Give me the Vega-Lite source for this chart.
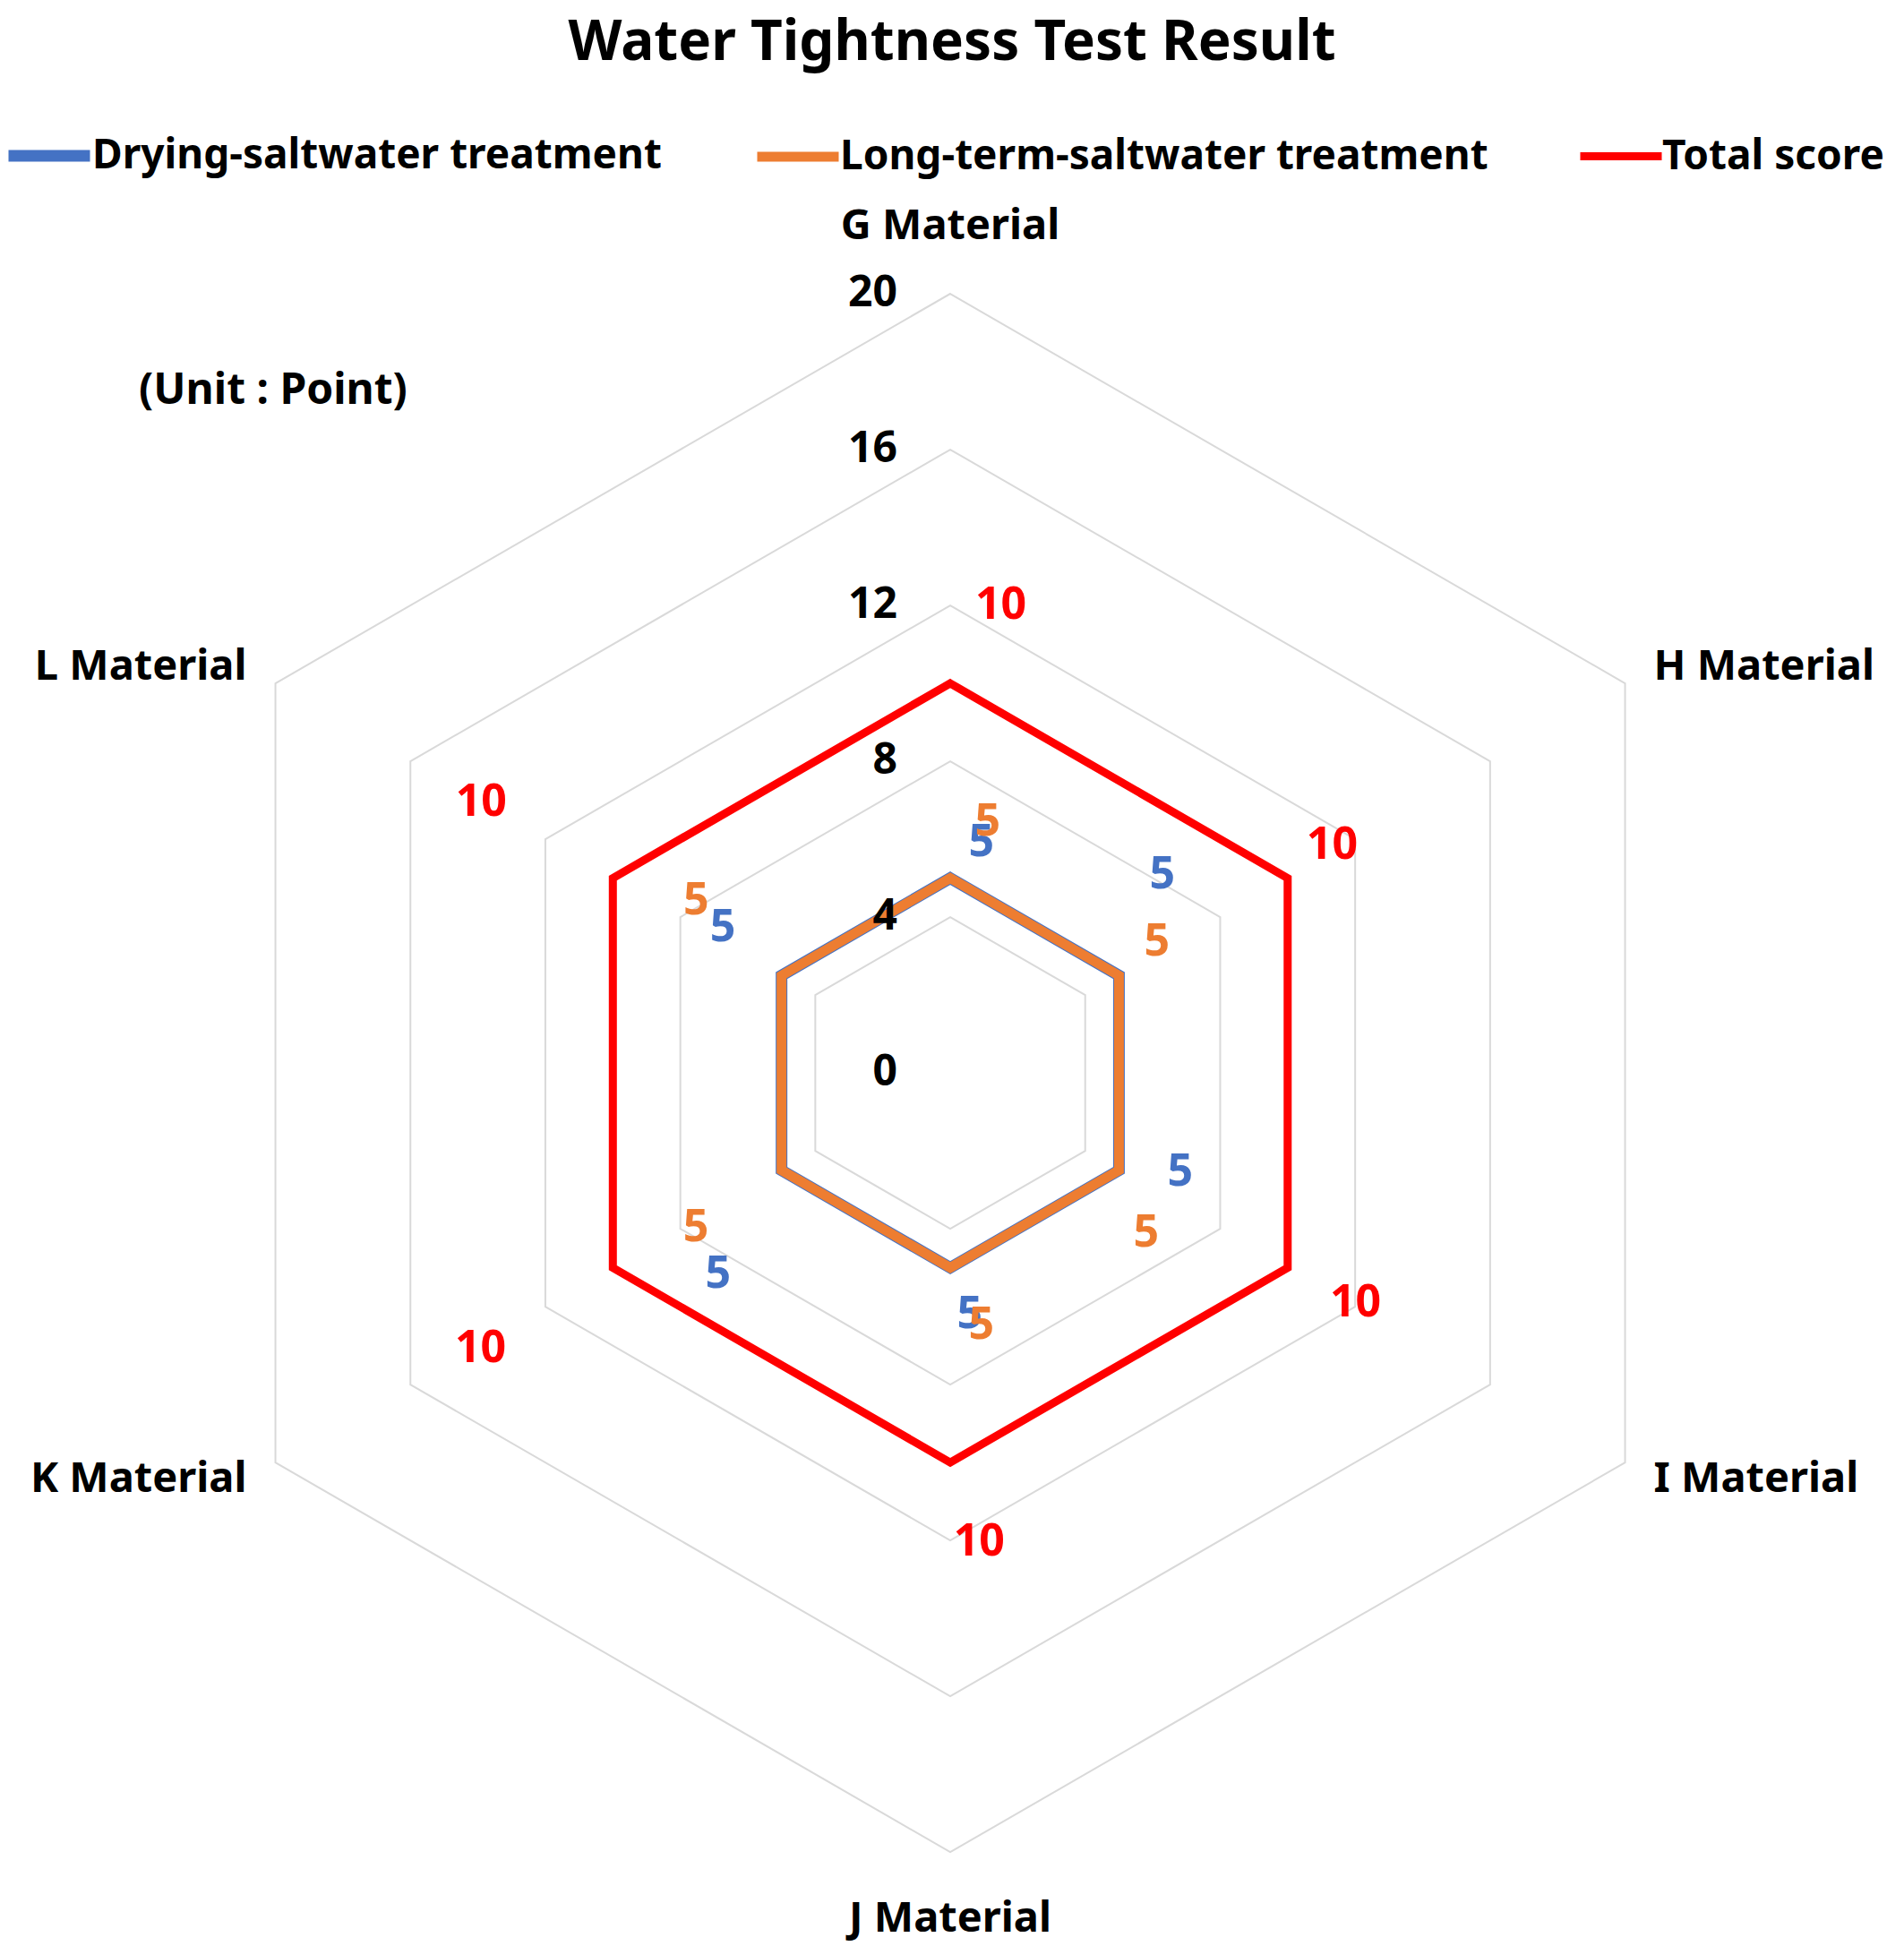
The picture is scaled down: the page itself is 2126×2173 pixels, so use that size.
{
  "$schema": "https://vega.github.io/schema/vega-lite/v6.json",
  "width": 2126,
  "height": 2173,
  "autosize": {"type": "none"},
  "padding": 0,
  "background": "white",
  "title": {
    "text": "Water Tightness Test Result",
    "anchor": "middle",
    "frame": "group",
    "orient": "top",
    "offset": -68,
    "dy": 61,
    "baseline": "alphabetic",
    "font": "Noto Sans",
    "fontSize": 62,
    "fontWeight": "bold",
    "color": "#000000"
  },
  "config": {
    "view": {"stroke": null}
  },
  "datasets": {
    "materials": [
      {"material": "G Material"},
      {"material": "H Material"},
      {"material": "I Material"},
      {"material": "J Material"},
      {"material": "K Material"},
      {"material": "L Material"}
    ],
    "scores": [
      {"material": "G Material", "series": "Drying-saltwater treatment", "value": 5},
      {"material": "H Material", "series": "Drying-saltwater treatment", "value": 5},
      {"material": "I Material", "series": "Drying-saltwater treatment", "value": 5},
      {"material": "J Material", "series": "Drying-saltwater treatment", "value": 5},
      {"material": "K Material", "series": "Drying-saltwater treatment", "value": 5},
      {"material": "L Material", "series": "Drying-saltwater treatment", "value": 5},
      {"material": "G Material", "series": "Long-term-saltwater treatment", "value": 5},
      {"material": "H Material", "series": "Long-term-saltwater treatment", "value": 5},
      {"material": "I Material", "series": "Long-term-saltwater treatment", "value": 5},
      {"material": "J Material", "series": "Long-term-saltwater treatment", "value": 5},
      {"material": "K Material", "series": "Long-term-saltwater treatment", "value": 5},
      {"material": "L Material", "series": "Long-term-saltwater treatment", "value": 5},
      {"material": "G Material", "series": "Total score", "value": 10},
      {"material": "H Material", "series": "Total score", "value": 10},
      {"material": "I Material", "series": "Total score", "value": 10},
      {"material": "J Material", "series": "Total score", "value": 10},
      {"material": "K Material", "series": "Total score", "value": 10},
      {"material": "L Material", "series": "Total score", "value": 10}
    ],
    "rings": [
      {"ring": 4, "material": "G Material"}, {"ring": 4, "material": "H Material"}, {"ring": 4, "material": "I Material"},
      {"ring": 4, "material": "J Material"}, {"ring": 4, "material": "K Material"}, {"ring": 4, "material": "L Material"},
      {"ring": 8, "material": "G Material"}, {"ring": 8, "material": "H Material"}, {"ring": 8, "material": "I Material"},
      {"ring": 8, "material": "J Material"}, {"ring": 8, "material": "K Material"}, {"ring": 8, "material": "L Material"},
      {"ring": 12, "material": "G Material"}, {"ring": 12, "material": "H Material"}, {"ring": 12, "material": "I Material"},
      {"ring": 12, "material": "J Material"}, {"ring": 12, "material": "K Material"}, {"ring": 12, "material": "L Material"},
      {"ring": 16, "material": "G Material"}, {"ring": 16, "material": "H Material"}, {"ring": 16, "material": "I Material"},
      {"ring": 16, "material": "J Material"}, {"ring": 16, "material": "K Material"}, {"ring": 16, "material": "L Material"},
      {"ring": 20, "material": "G Material"}, {"ring": 20, "material": "H Material"}, {"ring": 20, "material": "I Material"},
      {"ring": 20, "material": "J Material"}, {"ring": 20, "material": "K Material"}, {"ring": 20, "material": "L Material"}
    ],
    "ticks": [
      {"tick": 0}, {"tick": 4}, {"tick": 8}, {"tick": 12}, {"tick": 16}, {"tick": 20}
    ]
  },
  "resolve": {"scale": {"x": "shared", "y": "shared"}, "legend": {"color": "independent", "strokeWidth": "independent"}},
  "layer": [
    {
      "data": {"name": "rings"},
      "transform": [
        {"calculate": "indexof(['G Material','H Material','I Material','J Material','K Material','L Material'], datum.material)", "as": "idx"},
        {"calculate": "datum.idx * PI / 3", "as": "th"},
        {"calculate": "datum.ring * sin(datum.th)", "as": "px"},
        {"calculate": "datum.ring * cos(datum.th)", "as": "py"}
      ],
      "mark": {"type": "line", "interpolate": "linear-closed", "stroke": "#d9d9d9", "strokeWidth": 2},
      "encoding": {
        "x": {"field": "px", "type": "quantitative", "scale": {"domain": [-24.39, 24.48], "zero": false, "nice": false}, "axis": null},
        "y": {"field": "py", "type": "quantitative", "scale": {"domain": [-22.41, 27.54], "zero": false, "nice": false}, "axis": null},
        "detail": {"field": "ring", "type": "nominal"},
        "order": {"field": "idx", "type": "quantitative"}
      }
    },
    {
      "data": {"name": "scores"},
      "transform": [
        {"calculate": "indexof(['G Material','H Material','I Material','J Material','K Material','L Material'], datum.material)", "as": "idx"},
        {"calculate": "datum.idx * PI / 3", "as": "th"},
        {"calculate": "datum.value * sin(datum.th)", "as": "px"},
        {"calculate": "datum.value * cos(datum.th)", "as": "py"}
      ],
      "mark": {"type": "line", "interpolate": "linear-closed", "strokeJoin": "miter"},
      "encoding": {
        "x": {"field": "px", "type": "quantitative"},
        "y": {"field": "py", "type": "quantitative"},
        "color": {
          "field": "series", "type": "nominal",
          "scale": {"domain": ["Drying-saltwater treatment", "Long-term-saltwater treatment", "Total score"], "range": ["#4472C4", "#ED7D31", "#FF0000"]},
          "legend": {
            "orient": "none",
            "legendX": 3,
            "legendY": 122,
            "direction": "horizontal",
            "symbolType": "stroke",
            "symbolSize": 8281,
            "labelFont": "Noto Sans",
            "labelFontSize": 46,
            "labelFontWeight": "bold",
            "labelColor": "#000000",
            "labelOffset": -4,
            "columnPadding": 84,
            "labelLimit": 1000,
            "title": null
          }
        },
        "strokeWidth": {
          "field": "series", "type": "nominal",
          "scale": {"domain": ["Drying-saltwater treatment", "Long-term-saltwater treatment", "Total score"], "range": [13, 9, 8]},
          "legend": {
            "orient": "none",
            "legendX": 3,
            "legendY": 122,
            "direction": "horizontal",
            "symbolType": "stroke",
            "symbolSize": 8281,
            "labelFont": "Noto Sans",
            "labelFontSize": 46,
            "labelFontWeight": "bold",
            "labelColor": "#000000",
            "labelOffset": -4,
            "columnPadding": 84,
            "labelLimit": 1000,
            "title": null
          }
        },
        "order": {"field": "idx", "type": "quantitative"}
      }
    },
    {
      "data": {"name": "ticks"},
      "mark": {"type": "text", "align": "right", "baseline": "middle", "dx": -59, "font": "Noto Sans", "fontSize": 48, "fontWeight": "bold", "color": "#000000"},
      "encoding": {
        "x": {"datum": 0, "type": "quantitative"},
        "y": {"field": "tick", "type": "quantitative"},
        "text": {"field": "tick", "type": "quantitative"}
      }
    },
    {
      "data": {"name": "materials"},
      "transform": [
        {"calculate": "indexof(['G Material','H Material','I Material','J Material','K Material','L Material'], datum.material)", "as": "idx"},
        {"calculate": "datum.idx * PI / 3", "as": "th"},
        {"calculate": "(datum.idx == 0 || datum.idx == 3) ? 21.72 : 20.85", "as": "lr"},
        {"calculate": "datum.lr * sin(datum.th)", "as": "px"},
        {"calculate": "datum.lr * cos(datum.th)", "as": "py"}
      ],
      "layer": [
        {
          "transform": [{"filter": "datum.idx == 0 || datum.idx == 3"}],
          "mark": {"type": "text", "align": "center", "baseline": "middle", "font": "Noto Sans", "fontSize": 47, "fontWeight": "bold", "color": "#000000"},
          "encoding": {
            "x": {"field": "px", "type": "quantitative"},
            "y": {"field": "py", "type": "quantitative"},
            "text": {"field": "material", "type": "nominal"}
          }
        },
        {
          "transform": [{"filter": "datum.idx == 1 || datum.idx == 2"}],
          "mark": {"type": "text", "align": "left", "baseline": "middle", "font": "Noto Sans", "fontSize": 47, "fontWeight": "bold", "color": "#000000"},
          "encoding": {
            "x": {"field": "px", "type": "quantitative"},
            "y": {"field": "py", "type": "quantitative"},
            "text": {"field": "material", "type": "nominal"}
          }
        },
        {
          "transform": [{"filter": "datum.idx == 4 || datum.idx == 5"}],
          "mark": {"type": "text", "align": "right", "baseline": "middle", "font": "Noto Sans", "fontSize": 47, "fontWeight": "bold", "color": "#000000"},
          "encoding": {
            "x": {"field": "px", "type": "quantitative"},
            "y": {"field": "py", "type": "quantitative"},
            "text": {"field": "material", "type": "nominal"}
          }
        }
      ]
    },
    {
      "data": {"name": "scores"},
      "transform": [
        {"calculate": "indexof(['G Material','H Material','I Material','J Material','K Material','L Material'], datum.material)", "as": "idx"},
        {"calculate": "datum.idx * PI / 3", "as": "th"},
        {"calculate": "datum.series == 'Total score' ? [12, 11.41, 11.96, 12.05, 13.98, 13.9][datum.idx] : (datum.series == 'Drying-saltwater treatment' ? [5.9, 7.25, 6.39, 6.2, 7.74, 6.92][datum.idx] : [6.43, 6.27, 6.41, 6.47, 7.64, 7.86][datum.idx])", "as": "lr"},
        {"calculate": "datum.series == 'Total score' ? [1.3, -0.16, -0.09, -0.74, -0.1, 0][datum.idx] : (datum.series == 'Drying-saltwater treatment' ? [0.8, -1.67, -0.74, -0.5, -1.49, 0.31][datum.idx] : [0.96, -0.25, 1.04, -0.8, -0.18, 0.57][datum.idx])", "as": "lt"},
        {"calculate": "datum.lr * sin(datum.th) + datum.lt * cos(datum.th)", "as": "px"},
        {"calculate": "datum.lr * cos(datum.th) - datum.lt * sin(datum.th)", "as": "py"}
      ],
      "mark": {"type": "text", "align": "center", "baseline": "middle", "font": "Noto Sans", "fontSize": 50, "fontWeight": "bold"},
      "encoding": {
        "x": {"field": "px", "type": "quantitative"},
        "y": {"field": "py", "type": "quantitative"},
        "text": {"field": "value", "type": "quantitative"},
        "color": {"field": "series", "type": "nominal", "legend": null}
      }
    },
    {
      "data": {"values": [{"note": "(Unit : Point)"}]},
      "mark": {"type": "text", "align": "center", "baseline": "middle", "font": "Noto Sans", "fontSize": 48, "fontWeight": "bold", "color": "#000000"},
      "encoding": {
        "x": {"datum": -17.38, "type": "quantitative"},
        "y": {"datum": 17.49, "type": "quantitative"},
        "text": {"field": "note", "type": "nominal"}
      }
    }
  ]
}
